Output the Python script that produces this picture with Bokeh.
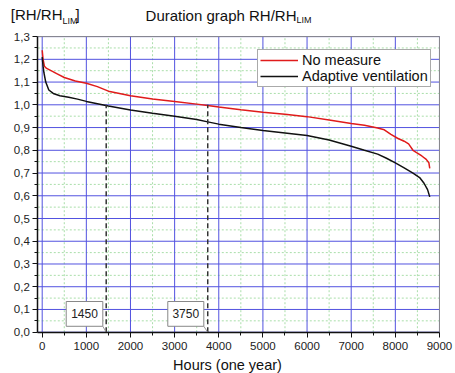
from bokeh.plotting import figure
from bokeh.models import Range1d, FixedTicker, CustomJSTickFormatter, Label, LinearAxis
from bokeh.embed import file_html
from bokeh.resources import INLINE
from bokeh.core.properties import value

# ---- data ----
hours_red = [0, 20, 50, 100, 200, 350, 500, 750, 1000, 1250, 1500, 1750, 2000,
             2500, 3000, 3500, 3750, 4000, 4500, 5000, 5500, 6000, 6500, 7000,
             7300, 7600, 7750, 7900, 8050, 8200, 8300, 8400, 8500, 8600, 8700,
             8760, 8780]
rh_no_measure = [1.24, 1.20, 1.17, 1.16, 1.15, 1.135, 1.12, 1.105, 1.095, 1.08,
                 1.06, 1.05, 1.04, 1.026, 1.015, 1.003, 0.997, 0.99, 0.978,
                 0.967, 0.958, 0.948, 0.933, 0.918, 0.91, 0.898, 0.89, 0.87,
                 0.853, 0.84, 0.828, 0.80, 0.788, 0.775, 0.76, 0.745, 0.72]

hours_blk = [0, 20, 40, 80, 150, 250, 400, 600, 800, 1000, 1250, 1500, 2000,
             2500, 3000, 3500, 3750, 4000, 4500, 5000, 5500, 6000, 6500, 7000,
             7300, 7600, 7800, 8000, 8200, 8400, 8550, 8650, 8730, 8780]
rh_adaptive = [1.21, 1.17, 1.14, 1.10, 1.065, 1.05, 1.04, 1.033, 1.025, 1.015,
               1.005, 0.995, 0.977, 0.963, 0.95, 0.935, 0.925, 0.915, 0.90,
               0.887, 0.876, 0.865, 0.845, 0.818, 0.80, 0.783, 0.765, 0.745,
               0.723, 0.70, 0.68, 0.655, 0.627, 0.595]

marker_hours = [1450, 3750]
marker_level = [1.0, 1.0]
marker_text = ["1450", "3750"]
box_left = [544, 2845]
box_right = [1373, 3661]
box_bottom = [0.026, 0.026]
box_top = [0.135, 0.135]

x_ticks = [0, 1000, 2000, 3000, 4000, 5000, 6000, 7000, 8000, 9000]
x_minor = [500, 1500, 2500, 3500, 4500, 5500, 6500, 7500, 8500]
y_ticks = [round(i * 0.1, 1) for i in range(14)]
y_minor = [round(0.05 + i * 0.1, 2) for i in range(13)]

X_LO, X_HI = -100, 9000      # plot area limits (hours)
Y_LO, Y_HI = 0.0, 1.3        # plot area limits (RH/RH_LIM)

FONT = "Liberation Sans"

# the frame covers the whole canvas; axes are placed at fixed locations
p = figure(width=455, height=373, output_backend="svg", toolbar_location=None,
           x_range=Range1d(-944.7, 9363), y_range=Range1d(-0.1816, 1.4587),
           x_axis_location=None, y_axis_location=None, min_border=0,
           background_fill_color="white", border_fill_color="white")
p.outline_line_color = None
p.grid.visible = False

# grid lines (from tick lists)
p.segment(x0=x_minor, y0=[Y_LO] * len(x_minor), x1=x_minor, y1=[Y_HI] * len(x_minor),
          line_color="#a9dea9", line_width=1, line_dash="2 2")
p.segment(x0=[X_LO] * len(y_minor), y0=y_minor, x1=[X_HI] * len(y_minor), y1=y_minor,
          line_color="#a9dea9", line_width=1, line_dash="2 2")
p.segment(x0=x_ticks, y0=[Y_LO] * len(x_ticks), x1=x_ticks, y1=[Y_HI] * len(x_ticks),
          line_color="#5252e0", line_width=1)
p.segment(x0=[X_LO] * len(y_ticks), y0=y_ticks, x1=[X_HI] * len(y_ticks), y1=y_ticks,
          line_color="#5252e0", line_width=1)
# top/right frame border
p.line(x=[X_LO, X_HI, X_HI], y=[Y_HI, Y_HI, Y_LO], line_color="#8a8a8a", line_width=1)

# axes
xaxis = LinearAxis(fixed_location=Y_LO, bounds=(X_LO, X_HI),
                   ticker=FixedTicker(ticks=x_ticks, minor_ticks=x_minor))
yaxis = LinearAxis(fixed_location=X_LO, bounds=(Y_LO, Y_HI),
                   ticker=FixedTicker(ticks=y_ticks, minor_ticks=y_minor),
                   formatter=CustomJSTickFormatter(
                       code="return tick.toFixed(1).replace('.', ',');"))
for ax in (xaxis, yaxis):
    ax.axis_line_color = "#111111"
    ax.axis_line_width = 1.5
    ax.major_tick_line_color = "#111111"
    ax.minor_tick_line_color = "#111111"
    ax.major_tick_out = 5
    ax.major_tick_in = 0
    ax.minor_tick_out = 3
    ax.minor_tick_in = 0
    ax.major_label_text_font = FONT
    ax.major_label_text_font_size = "11.5px"
    ax.major_label_text_color = "#222222"
xaxis.major_label_standoff = 5
yaxis.major_label_standoff = 3
p.add_layout(xaxis, "below")
p.add_layout(yaxis, "left")

# curves
p.line(hours_red, rh_no_measure, line_color="#e01b1b", line_width=1.5,
       legend_label="No measure")
p.line(hours_blk, rh_adaptive, line_color="#111111", line_width=1.5,
       legend_label="Adaptive ventilation")

# markers
p.segment(x0=marker_hours, y0=[0, 0], x1=marker_hours, y1=marker_level,
          line_color="#333333", line_width=1.5, line_dash="5 3")
p.segment(x0=box_right, y0=box_bottom, x1=marker_hours, y1=[0, 0],
          line_color="#999999", line_width=1)
p.quad(left=box_left, right=box_right, bottom=box_bottom, top=box_top,
       fill_color="white", line_color="#888888", line_width=1)
p.text(x=[(a + b) / 2 for a, b in zip(box_left, box_right)],
       y=[(a + b) / 2 for a, b in zip(box_bottom, box_top)], text=marker_text,
       text_font=value(FONT), text_font_size="12px", text_align="center",
       text_baseline="middle", text_color="#222222")

# legend
lg = p.legend[0]
lg.location = (257, 286)
lg.label_text_font = FONT
lg.label_text_font_size = "14.5px"
lg.label_text_color = "#111111"
lg.glyph_width = 38
lg.glyph_height = 16
lg.label_height = 16
lg.label_standoff = 4
lg.padding = 2
lg.spacing = 0
lg.margin = 0
lg.border_line_color = "#555555"
lg.border_line_width = 1
lg.background_fill_alpha = 1

# texts (title, axis labels)
def lab(x, y, t, size, align="left", baseline="alphabetic"):
    p.add_layout(Label(x=x, y=y, text=t, text_font=FONT, text_font_size=size,
                       text_align=align, text_baseline=baseline,
                       text_color="#111111"))

lab(5761, 1.394, "Duration graph RH/RH", "15px", align="right")
lab(5761, 1.372, "LIM", "9px")
lab(460, 1.396, "[RH/RH", "15px", align="right")
lab(460, 1.369, "LIM", "9px")
lab(754, 1.396, "]", "15px")
lab(4198, -0.145, "Hours (one year)", "14.5px", align="center")

open("out.html", "w").write(file_html(p, INLINE))
